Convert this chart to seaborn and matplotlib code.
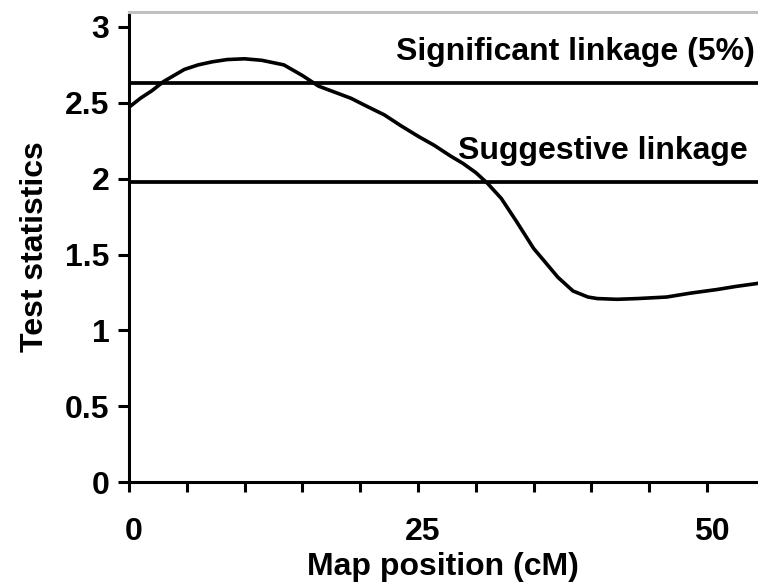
import numpy as np
import pandas as pd
import matplotlib
matplotlib.use("Agg")
import matplotlib.pyplot as plt
import matplotlib.transforms as mtrans
import seaborn as sns

# data
map_pos = [0, 1, 2, 3, 4.8, 6, 7.2, 8.5, 10, 11.5, 13.4, 15, 16.4, 17.8, 19.2,
           20.5, 22.1, 23.5, 25, 26.4, 27.8, 28.9, 30, 31, 32.2, 33.5, 35,
           36, 37.1, 38.4, 39.7, 40.5, 42.2, 44, 46.5, 48.5, 50.9, 52.5, 54.4]
test_stat = [2.47, 2.53, 2.58, 2.64, 2.72, 2.75, 2.77, 2.785, 2.79, 2.78,
             2.75, 2.68, 2.61, 2.57, 2.53, 2.48, 2.42, 2.35, 2.28, 2.22,
             2.15, 2.10, 2.04, 1.97, 1.87, 1.72, 1.54, 1.45, 1.35, 1.26,
             1.22, 1.21, 1.205, 1.21, 1.22, 1.245, 1.27, 1.29, 1.31]
significant = 2.63
suggestive = 1.98
x_ticks = [0, 25, 50]
y_ticks = [0, 0.5, 1, 1.5, 2, 2.5, 3]

df = pd.DataFrame({"pos": map_pos, "stat": test_stat})

sns.set_style("ticks")
plt.rcParams["font.family"] = ["Liberation Sans", "DejaVu Sans"]
plt.rcParams["font.weight"] = "bold"
plt.rcParams["text.color"] = "black"
plt.rcParams["axes.labelcolor"] = "black"
plt.rcParams["xtick.color"] = "black"
plt.rcParams["ytick.color"] = "black"
plt.rcParams["axes.edgecolor"] = "black"

fig = plt.figure(figsize=(7.58, 5.88), dpi=100)
ax = fig.add_axes([0.170, 0.180, 0.830, 0.800])

sns.lineplot(data=df, x="pos", y="stat", color="black", linewidth=2.6, ax=ax)
ax.axhline(significant, color="black", linewidth=2.7)
ax.axhline(suggestive, color="black", linewidth=2.7)

ax.text(54.1, 2.78, "Significant linkage (5%)", ha="right", va="baseline",
        fontsize=23, fontweight="bold")
ax.text(53.5, 2.13, "Suggestive linkage", ha="right", va="baseline",
        fontsize=23, fontweight="bold")

ax.set_xlim(0, 54.4)
ax.set_ylim(0, 3.1)
ax.set_xticks(np.arange(0, 55, 5))
ax.set_xticklabels([str(v) if v in x_ticks else "" for v in range(0, 55, 5)])
ax.set_yticks(y_ticks)
ax.set_yticklabels([f"{v:g}" for v in y_ticks])

ax.tick_params(axis="x", direction="out", length=7, width=2.2, pad=18,
               labelsize=23)
ax.tick_params(axis="y", direction="out", length=8, width=2.2, pad=6,
               labelsize=23)
shift = mtrans.ScaledTranslation(0.05, 0, fig.dpi_scale_trans)
for lab in ax.get_xticklabels():
    lab.set_fontweight("bold")
    lab.set_transform(lab.get_transform() + shift)
for lab in ax.get_yticklabels():
    lab.set_fontweight("bold")

ax.set_xlabel("Map position (cM)", fontsize=23, fontweight="bold", labelpad=4)
ax.set_ylabel("Test statistics", fontsize=23, fontweight="bold", labelpad=11)

ax.spines["right"].set_visible(False)
ax.spines["top"].set_color("#c0c0c0")
ax.spines["top"].set_linewidth(2.2)
ax.spines["left"].set_linewidth(2.2)
ax.spines["bottom"].set_linewidth(2.2)

fig.savefig("out.png", dpi=100)
